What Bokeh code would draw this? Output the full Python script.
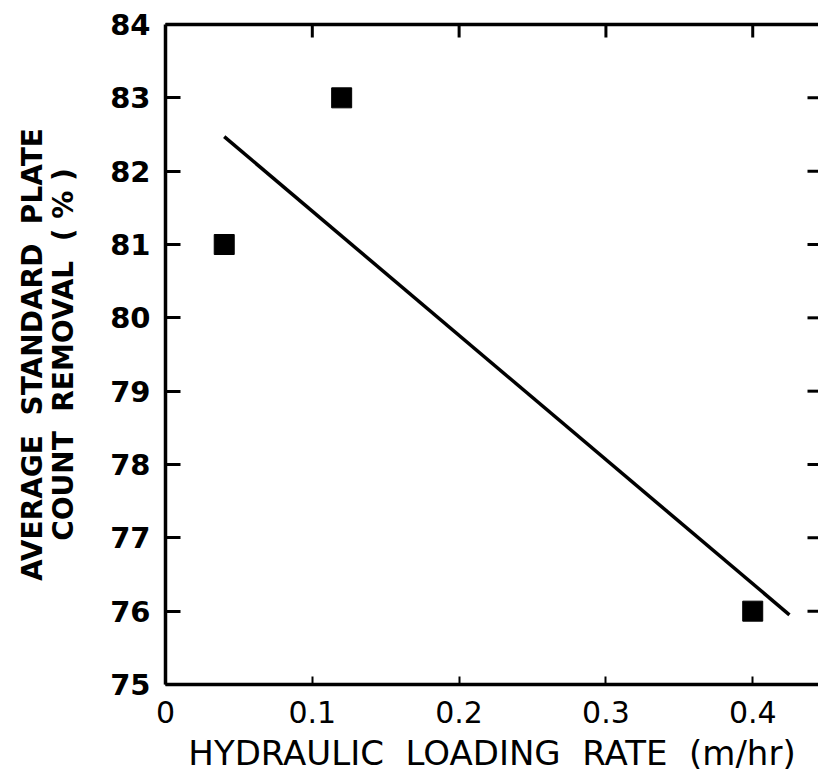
import math
from bokeh.plotting import figure
from bokeh.models import LinearAxis, FixedTicker, Range1d, ColumnDataSource
from bokeh.embed import file_html
from bokeh.resources import INLINE

# data
rate = [0.04, 0.12, 0.40]
removal = [81.0, 83.0, 76.0]
fit_x = [0.04, 0.425]
fit_y = [82.47, 75.95]

x_ticks = [0.0, 0.1, 0.2, 0.3, 0.4]
x_tick_labels = ["0", "0.1", "0.2", "0.3", "0.4"]
y_ticks = [75, 76, 77, 78, 79, 80, 81, 82, 83, 84]
y_tick_labels = [str(v) for v in y_ticks]
X_MAX = 0.4448
Y_MIN, Y_MAX = 75, 84

XGAP = "\u00a0" * 2
YGAP = "\u00a0" * 2
x_title = XGAP.join(["HYDRAULIC", "LOADING", "RATE", "(m/hr)"])
y_title = YGAP.join(["AVERAGE", "STANDARD", "PLATE"]) + "\n" + YGAP.join(["COUNT", "REMOVAL", "( % )"])

FONT = "DejaVu Sans"
LW = 3.5

p = figure(width=818, height=775, output_backend="svg", toolbar_location=None,
           x_range=Range1d(0, X_MAX), y_range=Range1d(Y_MIN, Y_MAX),
           x_axis_location=None, y_axis_location=None,
           min_border_left=165, min_border_top=24, min_border_right=0,
           min_border_bottom=89)
p.outline_line_color = None
p.grid.visible = False
p.background_fill_color = "white"

# bottom axis
xb = LinearAxis(ticker=FixedTicker(ticks=x_ticks),
                major_label_overrides={t: l for t, l in zip(x_ticks, x_tick_labels)})
xb.axis_label = x_title
xb.axis_label_text_font = FONT
xb.axis_label_text_font_style = "normal"
xb.axis_label_text_font_size = "34px"
xb.axis_label_text_color = "black"
xb.axis_label_standoff = 7
xb.major_label_text_font = FONT
xb.major_label_text_font_size = "30px"
xb.major_label_text_color = "black"
xb.major_label_standoff = 16
xb.major_tick_in = 8
xb.major_tick_out = 0
xb.minor_tick_in = 0
xb.minor_tick_out = 0
xb.axis_line_width = LW
xb.major_tick_line_width = 2
p.add_layout(xb, "below")

# left axis
yl = LinearAxis(ticker=FixedTicker(ticks=y_ticks),
                major_label_overrides={t: l for t, l in zip(y_ticks, y_tick_labels)})
yl.axis_label = y_title
yl.axis_label_text_font = FONT
yl.axis_label_text_font_style = "bold"
yl.axis_label_text_font_size = "28px"
yl.axis_label_text_line_height = 0.95
yl.axis_label_text_color = "black"
yl.axis_label_standoff = 27
yl.major_label_text_font = FONT
yl.major_label_text_font_style = "bold"
yl.major_label_text_font_size = "29px"
yl.major_label_text_color = "black"
yl.major_label_standoff = 15
yl.major_tick_in = 15
yl.major_tick_out = 0
yl.minor_tick_in = 0
yl.minor_tick_out = 0
yl.axis_line_width = LW
yl.major_tick_line_width = 3
p.add_layout(yl, "left")

# top border line (no ticks/labels; ticks drawn as rays below)
xt = LinearAxis(ticker=FixedTicker(ticks=[]))
xt.major_tick_in = 0
xt.major_tick_out = 0
xt.minor_tick_in = 0
xt.minor_tick_out = 0
xt.axis_line_width = LW
p.add_layout(xt, "above")

# inward ticks on the top edge and the (cut-off) right edge
top_src = ColumnDataSource(dict(x=x_ticks[1:], y=[Y_MAX] * len(x_ticks[1:])))
p.ray("x", "y", source=top_src, length=13, length_units="screen",
      angle=-math.pi / 2, line_color="black", line_width=3)
right_src = ColumnDataSource(dict(x=[X_MAX] * len(y_ticks[1:-1]), y=y_ticks[1:-1]))
p.ray("x", "y", source=right_src, length=11, length_units="screen",
      angle=math.pi, line_color="black", line_width=3)

p.line(fit_x, fit_y, line_color="black", line_width=3.5)
src = ColumnDataSource(dict(x=rate, y=removal))
p.scatter("x", "y", source=src, marker="square", size=20,
          fill_color="black", line_color="black")

open("out.html", "w").write(file_html(p, INLINE))
